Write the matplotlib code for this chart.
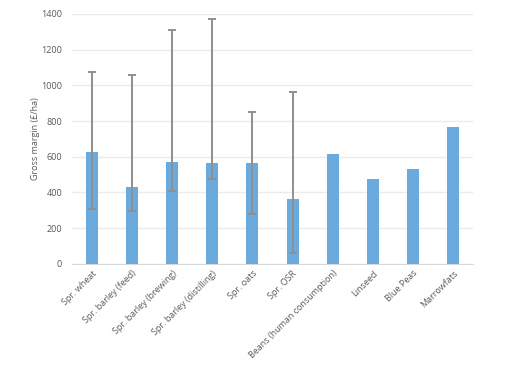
import matplotlib
matplotlib.use("Agg")
import matplotlib.pyplot as plt
import numpy as np

plt.rcParams['font.family'] = ['Open Sans', 'DejaVu Sans']

categories = ["Spr. wheat", "Spr. barley (feed)", "Spr. barley (brewing)",
              "Spr. barley (distilling)", "Spr. oats", "Spr. OSR",
              "Beans (human consumption)", "Linseed", "Blue Peas", "Marrowfats"]
values = [627, 431, 571, 565, 565, 364, 616, 476, 532, 767]
err_high = [1077, 1060, 1312, 1372, 853, 965, None, None, None, None]
err_low = [308, 295, 410, 476, 282, 63, None, None, None, None]

fig = plt.figure(figsize=(5.24, 3.67), dpi=100)
ax = fig.add_axes([0.137, 0.281, 0.766, 0.681])

x = np.arange(len(categories))
ax.bar(x, values, width=0.3, color="#6aaadc", zorder=2)

ex, ey, lo, hi = [], [], [], []
for i, (v, h, l) in enumerate(zip(values, err_high, err_low)):
    if h is not None:
        ex.append(i); ey.append(v); lo.append(v - l); hi.append(h - v)
ax.errorbar(ex, ey, yerr=[lo, hi], fmt='none', ecolor="#8f8f8f",
            elinewidth=1.4, capsize=3, capthick=1.4, zorder=3)

ax.set_ylim(0, 1400)
ax.set_xlim(-0.5, len(categories) - 0.5)
ax.set_yticks(range(0, 1401, 200))
ax.yaxis.grid(True, color="#ebebeb", linewidth=1, zorder=0)
ax.set_axisbelow(True)
for s in ["top", "right", "left"]:
    ax.spines[s].set_visible(False)
ax.spines["bottom"].set_color("#d9d9d9")
ax.tick_params(axis='both', length=0, colors="#595959", labelsize=6.5)
ax.tick_params(axis='y', pad=7)
ax.set_xticks(x)
ax.set_xticklabels(categories, rotation=45, ha='right', rotation_mode='anchor')
ax.set_ylabel("Gross margin (£/ha)", fontsize=6.5, color="#595959", labelpad=1)

fig.savefig("out.png", dpi=100)
